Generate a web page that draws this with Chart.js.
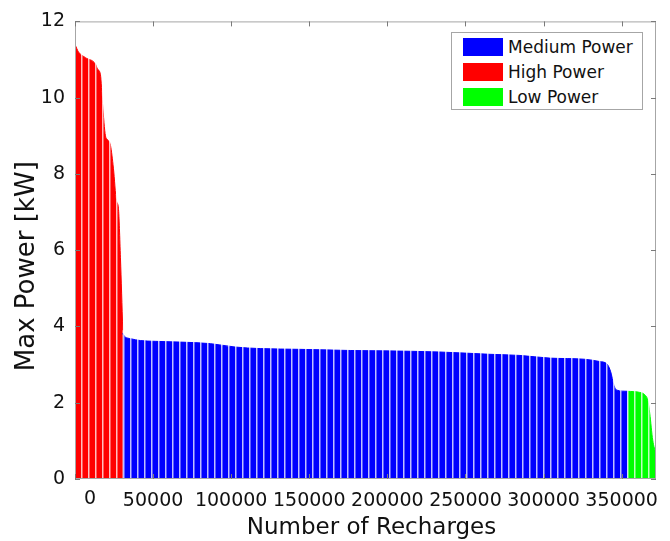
<!DOCTYPE html>
<html>
<head>
<meta charset="utf-8">
<title>Max Power vs Number of Recharges</title>
<script src="https://cdn.jsdelivr.net/npm/chart.js@4.4.1/dist/chart.umd.min.js"></script>
<style>
    html, body { margin: 0; padding: 0; background: #fff; }
    #wrap { position: relative; width: 670px; height: 541px; }
    #legend {
        position: absolute; left: 451px; top: 32px; width: 190px; height: 76px;
        border: 1px solid #a6a6a6; background: #fff; box-sizing: content-box;
        font-family: "DejaVu Sans", sans-serif; font-size: 17px; color: #111;
    }
    #legend .item { position: absolute; left: 11px; height: 18px; display: flex; align-items: center; }
    #legend .swatch { width: 40px; height: 18px; margin-right: 5px; }
</style>
</head>
<body>
<div id="wrap">
    <canvas id="powerChart" width="670" height="541"></canvas>
    <div id="legend"></div>
</div>
<script>
// Sorted max power per recharge
const highX = [0, 2200, 6700, 13100, 14400, 16300, 17600, 19500, 20800, 22700, 24600, 26500, 27800, 29100, 30600];
const highY = [11.4, 11.2, 11.05, 10.88, 10.75, 10.6, 9.85, 9.0, 8.9, 8.75, 8.15, 7.3, 7.1, 5.8, 3.9];

const mediumX = [30600, 31000, 32300, 35500, 41900, 51500, 67500, 86600, 102600, 118600, 144200, 176200,
                 198500, 233700, 265700, 284900, 304000, 326400, 336000, 340500, 343000, 345000, 346900, 353900];
const mediumY = [3.82, 3.78, 3.72, 3.68, 3.63, 3.61, 3.59, 3.55, 3.46, 3.42, 3.40, 3.37,
                 3.36, 3.33, 3.27, 3.24, 3.17, 3.14, 3.08, 3.02, 2.81, 2.46, 2.33, 2.30];

const lowX = [353900, 361600, 364800, 366700, 368000, 369900, 372000];
const lowY = [2.30, 2.27, 2.21, 2.07, 1.72, 1.02, 0.65];

// Axis ranges, tick labels and titles
const xMin = 0, xMax = 372000;
const xTicks = [0, 50000, 100000, 150000, 200000, 250000, 300000, 350000];
const yMin = 0, yMax = 12;
const yTicks = [0, 2, 4, 6, 8, 10, 12];
const xTitle = 'Number of Recharges';
const yTitle = 'Max Power [kW]';

const FONT = '"DejaVu Sans", sans-serif';
const STRIPE_STEP = 4480; // bar-edge artefacts of the original plot

function toPoints(xs, ys) {
    return xs.map((x, i) => ({ x: x, y: ys[i] }));
}

function areaSet(label, xs, ys, color) {
    return {
        label: label,
        data: toPoints(xs, ys),
        borderColor: color,
        backgroundColor: color,
        borderWidth: 1,
        fill: 'origin',
        pointRadius: 0,
        cubicInterpolationMode: 'monotone'
    };
}

function stripeTicks() {
    const out = [];
    for (let v = STRIPE_STEP; v < xMax; v += STRIPE_STEP) out.push({ value: v });
    return out;
}

// Box round the plot with inward ticks, axis titles and the shifted "0" label
const axisBox = {
    id: 'axisBox',
    afterDraw(chart) {
        const { ctx, chartArea: a, scales: { x, y } } = chart;
        ctx.save();
        ctx.strokeStyle = '#a6a6a6';
        ctx.lineWidth = 1;
        ctx.strokeRect(a.left + 0.5, a.top + 0.5, a.right - a.left - 1, a.bottom - a.top - 1);

        ctx.strokeStyle = '#7a7a7a';
        ctx.beginPath();
        x.ticks.forEach(t => {
            const px = Math.round(x.getPixelForValue(t.value)) + 0.5;
            ctx.moveTo(px, a.bottom); ctx.lineTo(px, a.bottom - 5);
            ctx.moveTo(px, a.top); ctx.lineTo(px, a.top + 5);
        });
        y.ticks.forEach(t => {
            const py = Math.round(y.getPixelForValue(t.value)) + 0.5;
            ctx.moveTo(a.left, py); ctx.lineTo(a.left + 5, py);
            ctx.moveTo(a.right, py); ctx.lineTo(a.right - 5, py);
        });
        ctx.stroke();

        ctx.fillStyle = '#111';
        ctx.textAlign = 'center';
        ctx.textBaseline = 'top';
        ctx.font = '19px ' + FONT;
        ctx.fillText('0', x.getPixelForValue(0) + 15, a.bottom + 11);

        ctx.textBaseline = 'middle';
        ctx.font = '23px ' + FONT;
        ctx.fillText(xTitle, (a.left + a.right) / 2 + 6, chart.height - 13);

        ctx.translate(27, (a.top + a.bottom) / 2 + 16);
        ctx.rotate(-Math.PI / 2);
        ctx.font = '26px ' + FONT;
        ctx.fillText(yTitle, 0, 0);
        ctx.restore();
    }
};

const chart = new Chart(document.getElementById('powerChart'), {
    type: 'line',
    data: {
        datasets: [
            areaSet('Medium Power', mediumX, mediumY, '#0000ff'),
            areaSet('High Power', highX, highY, '#ff0000'),
            areaSet('Low Power', lowX, lowY, '#00ff00')
        ]
    },
    options: {
        responsive: false,
        animation: false,
        layout: { padding: { top: 20, right: 14, left: 0, bottom: 0 } },
        plugins: {
            legend: { display: false },
            tooltip: { enabled: false }
        },
        scales: {
            x: {
                type: 'linear',
                min: xMin,
                max: xMax,
                grid: { display: false, drawTicks: false },
                border: { display: false },
                afterBuildTicks: s => { s.ticks = xTicks.map(v => ({ value: v })); },
                ticks: {
                    autoSkip: false,
                    maxRotation: 0,
                    padding: 11,
                    color: '#111',
                    font: { family: FONT, size: 19 },
                    callback: v => (v === 0 ? '' : String(v))
                },
                afterFit: s => { s.height = 62; }
            },
            xs: {
                type: 'linear',
                position: 'top',
                min: xMin,
                max: xMax,
                afterBuildTicks: s => { s.ticks = stripeTicks(); },
                ticks: { display: false },
                grid: { color: 'rgba(255,255,255,0.75)', lineWidth: 1.5, drawTicks: false, z: 1 },
                border: { display: false },
                afterFit: s => { s.height = 0; }
            },
            y: {
                min: yMin,
                max: yMax,
                grid: { display: false, drawTicks: false },
                border: { display: false },
                afterBuildTicks: s => { s.ticks = yTicks.map(v => ({ value: v })); },
                ticks: {
                    padding: 10,
                    color: '#111',
                    font: { family: FONT, size: 19 }
                },
                afterFit: s => { s.width = 75; }
            }
        }
    },
    plugins: [axisBox]
});

// Legend built from the chart's datasets
const legend = document.getElementById('legend');
chart.data.datasets.forEach((ds, i) => {
    const item = document.createElement('div');
    item.className = 'item';
    item.style.top = (5 + i * 25) + 'px';
    item.innerHTML = '<span class="swatch" style="background:' + ds.backgroundColor + '"></span>' + ds.label;
    legend.appendChild(item);
});
</script>
</body>
</html>
